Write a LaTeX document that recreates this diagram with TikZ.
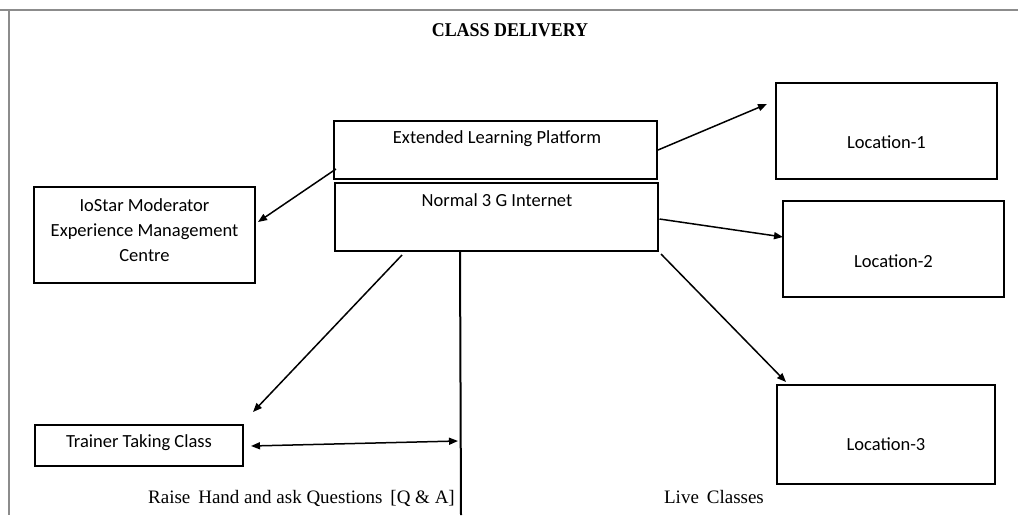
\documentclass[tikz,border=0pt]{standalone}
\usepackage{fontspec}
\setmainfont{Liberation Serif}
\newfontfamily\boxfont{Carlito}
\usetikzlibrary{arrows.meta,calc}

\tikzset{
  box/.style={draw=black, line width=2pt, minimum width=#1, inner sep=0pt},
  boxtext/.style={font=\boxfont\fontsize{18.5}{25}\selectfont, align=center, inner sep=0pt},
  link/.style={draw=black, line width=1.5pt, -{Triangle[length=9pt,width=7pt]}},
  biglabel/.style={font=\fontsize{19}{22}\selectfont, inner sep=0pt},
  frame/.style={draw=black!45, line width=2pt}
}

\begin{document}
\begin{tikzpicture}[x=1pt, y=-1pt]
  \useasboundingbox (0,0) rectangle (1018,515);

  % page frame
  \draw[frame] (0,10) -- (1018,10);
  \draw[frame] (9,10) -- (9,515);

  % title
  \node[font=\bfseries\fontsize{19.5}{22}\selectfont, inner sep=0pt, xscale=0.92] (title) at (510,30) {CLASS DELIVERY};

  % central platform boxes
  \node[box=323pt, minimum height=58pt] (elp) at (495.5,150) {};
  \node[boxtext] (elpT) at (497,139) {Extended Learning Platform};
  \node[box=323pt, minimum height=68pt] (net) at (496.5,217) {};
  \node[boxtext] (netT) at (497,200) {Normal 3 G Internet};

  % moderator centre
  \node[box=221pt, minimum height=96pt] (mod) at (144.5,235) {};
  \node[boxtext] (modT) at (144.5,230) {IoStar Moderator\\Experience Management\\Centre};

  % locations
  \node[box=221pt, minimum height=96pt] (loc1) at (886.5,131) {};
  \node[boxtext] (loc1T) at (886.5,142) {Location-1};
  \node[box=221pt, minimum height=96pt] (loc2) at (893.5,249) {};
  \node[boxtext] (loc2T) at (893.5,261) {Location-2};
  \node[box=218pt, minimum height=99pt] (loc3) at (886,434.5) {};
  \node[boxtext] (loc3T) at (886,444) {Location-3};

  % trainer
  \node[box=208pt, minimum height=41pt] (trainer) at (139,445.5) {};
  \node[boxtext] (trainerT) at (139,443) {Trainer Taking Class};

  % connectors
  \draw[link] ($(elp.south west)+(3,-11)$) -- ($(mod.east)+(2,-13)$);
  \draw[link] (elp.east) -- ($(loc1.west)+(-8,-27)$);
  \draw[link] ($(net.east)+(0.5,2)$) -- ($(loc2.west)+(1,-12)$);
  \draw[link] ($(net.south east)+(2,2)$) -- ($(loc3.north west)+(10,-2)$);
  \draw[link] ($(net.south west)+(68,3)$) -- ($(trainer.north east)+(9,-12)$);

  % vertical feed line and Q&A channel
  \coordinate (feedEnd) at (461,515);
  \draw[black, line width=2pt] ($(net.south west)+(126,0)$) -- (feedEnd);
  \coordinate (qa) at (458,441);
  \draw[link, {Triangle[length=9pt,width=7pt]}-{Triangle[length=9pt,width=7pt]}] ($(trainer.east)+(7,0.5)$) -- (qa);

  % captions
  \node[biglabel, anchor=base east] (qaT) at (455,503) {Raise\, Hand and ask Questions\, [Q \& A]};
  \node[biglabel, anchor=base] (liveT) at (714,503) {Live\, Classes};
\end{tikzpicture}
\end{document}
